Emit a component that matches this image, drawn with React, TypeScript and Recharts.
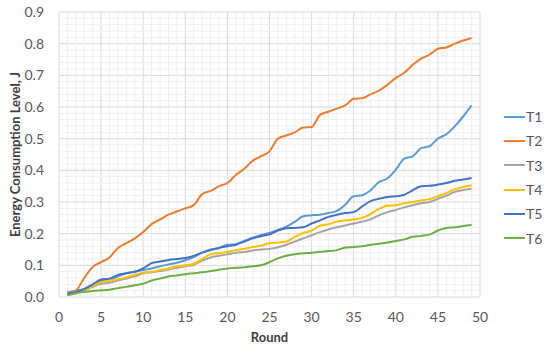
import React from 'react';
import { LineChart, Line, XAxis, YAxis, CartesianGrid, ReferenceLine } from 'recharts';

const rounds = Array.from({ length: 49 }, (_, i) => i + 1);

const t1 = [0.015, 0.02, 0.025, 0.035, 0.05, 0.055, 0.065, 0.075, 0.08, 0.085, 0.09, 0.097, 0.103, 0.108, 0.116, 0.126, 0.14, 0.15, 0.155, 0.165, 0.167, 0.177, 0.187, 0.196, 0.202, 0.212, 0.222, 0.237, 0.255, 0.258, 0.26, 0.265, 0.272, 0.292, 0.318, 0.321, 0.337, 0.363, 0.374, 0.402, 0.437, 0.444, 0.47, 0.476, 0.5, 0.514, 0.539, 0.57, 0.605];
const t2 = [0.01, 0.02, 0.06, 0.095, 0.11, 0.125, 0.155, 0.17, 0.185, 0.205, 0.23, 0.245, 0.26, 0.27, 0.28, 0.29, 0.325, 0.335, 0.35, 0.36, 0.385, 0.405, 0.43, 0.445, 0.46, 0.5, 0.51, 0.52, 0.535, 0.537, 0.575, 0.585, 0.595, 0.605, 0.626, 0.628, 0.64, 0.652, 0.67, 0.692, 0.708, 0.733, 0.753, 0.765, 0.784, 0.788, 0.8, 0.81, 0.818];
const t3 = [0.006, 0.012, 0.02, 0.032, 0.042, 0.045, 0.052, 0.058, 0.065, 0.075, 0.078, 0.082, 0.087, 0.092, 0.097, 0.102, 0.115, 0.125, 0.13, 0.135, 0.14, 0.142, 0.147, 0.15, 0.152, 0.157, 0.165, 0.175, 0.185, 0.195, 0.205, 0.213, 0.22, 0.226, 0.232, 0.238, 0.245, 0.258, 0.268, 0.275, 0.283, 0.29, 0.296, 0.3, 0.31, 0.32, 0.332, 0.338, 0.343];
const t4 = [0.008, 0.012, 0.02, 0.035, 0.047, 0.052, 0.056, 0.062, 0.07, 0.077, 0.08, 0.085, 0.09, 0.097, 0.1, 0.105, 0.12, 0.135, 0.138, 0.142, 0.148, 0.152, 0.158, 0.162, 0.17, 0.172, 0.175, 0.19, 0.202, 0.21, 0.225, 0.23, 0.238, 0.242, 0.245, 0.25, 0.262, 0.278, 0.288, 0.29, 0.296, 0.3, 0.305, 0.309, 0.318, 0.328, 0.34, 0.347, 0.353];
const t5 = [0.01, 0.015, 0.025, 0.04, 0.055, 0.058, 0.07, 0.075, 0.08, 0.09, 0.107, 0.112, 0.117, 0.12, 0.123, 0.13, 0.14, 0.148, 0.155, 0.16, 0.165, 0.175, 0.185, 0.192, 0.198, 0.21, 0.217, 0.218, 0.22, 0.232, 0.242, 0.253, 0.26, 0.265, 0.268, 0.286, 0.303, 0.31, 0.316, 0.318, 0.323, 0.337, 0.35, 0.351, 0.355, 0.36, 0.367, 0.371, 0.376];
const t6 = [0.005, 0.012, 0.016, 0.019, 0.021, 0.023, 0.028, 0.032, 0.037, 0.042, 0.052, 0.058, 0.065, 0.068, 0.072, 0.075, 0.078, 0.082, 0.086, 0.09, 0.092, 0.094, 0.097, 0.1, 0.11, 0.122, 0.13, 0.135, 0.138, 0.14, 0.143, 0.145, 0.148, 0.156, 0.158, 0.16, 0.165, 0.168, 0.172, 0.177, 0.182, 0.19, 0.193, 0.197, 0.21, 0.218, 0.22, 0.224, 0.227];

const xTicks = [0, 5, 10, 15, 20, 25, 30, 35, 40, 45, 50];
const yTicks = [0, 0.1, 0.2, 0.3, 0.4, 0.5, 0.6, 0.7, 0.8, 0.9];
const xMinor = Array.from({ length: 49 }, (_, i) => i + 1).filter(v => v % 5 !== 0);
const yMinor = Array.from({ length: 45 }, (_, i) => +(i * 0.02).toFixed(2)).filter(v => Math.round(v * 100) % 10 !== 0);

const series = [
  { key: 'T1', values: t1, color: '#5B9BD5' },
  { key: 'T2', values: t2, color: '#ED7D31' },
  { key: 'T3', values: t3, color: '#A5A5A5' },
  { key: 'T4', values: t4, color: '#FFC000' },
  { key: 'T5', values: t5, color: '#4472C4' },
  { key: 'T6', values: t6, color: '#70AD47' },
];

const data = rounds.map((r, i) => {
  const row: Record<string, number> = { round: r };
  series.forEach(s => { row[s.key] = s.values[i]; });
  return row;
});

const font = 'Lato, "Open Sans", sans-serif';
const textColor = '#595959';

export default function App() {
  return (
    <div style={{ position: 'absolute', left: 0, top: 0, width: 550, height: 349, background: '#fff' }}>
      <LineChart width={550} height={349} data={data} margin={{ top: 12, right: 70, bottom: 22, left: 18 }}>
        {xMinor.map(v => (
          <ReferenceLine key={'x' + v} x={v} stroke="#EFEFEF" strokeWidth={1} />
        ))}
        {yMinor.map(v => (
          <ReferenceLine key={'y' + v} y={v} stroke="#EFEFEF" strokeWidth={1} />
        ))}
        <CartesianGrid stroke="#D9D9D9" />
        <XAxis
          dataKey="round"
          type="number"
          domain={[0, 50]}
          ticks={xTicks}
          axisLine={false}
          tickLine={false}
          height={30}
          tickMargin={9}
          tick={{ fill: textColor, fontSize: 14, fontFamily: font }}
          label={{ value: 'Round', position: 'insideBottom', offset: -15, fill: '#404040', fontSize: 13, fontWeight: 'bold', fontFamily: font }}
        />
        <YAxis
          type="number"
          domain={[0, 0.9]}
          ticks={yTicks}
          axisLine={false}
          tickLine={false}
          width={41}
          tickMargin={9}
          tickFormatter={(v: number) => v.toFixed(1)}
          tick={{ fill: textColor, fontSize: 14, fontFamily: font }}
          label={{ value: 'Energy Consumption Level, J', angle: -90, position: 'insideLeft', offset: -3, style: { textAnchor: 'middle' }, fill: '#404040', fontSize: 13, fontWeight: 'bold', fontFamily: font }}
        />
        {series.map(s => (
          <Line
            key={s.key}
            type="monotone"
            dataKey={s.key}
            stroke={s.color}
            strokeWidth={2}
            dot={false}
            isAnimationActive={false}
          />
        ))}
      </LineChart>
      <div style={{ position: 'absolute', left: 504, top: 104.5, fontFamily: font, fontSize: 14, color: textColor }}>
        {series.map(s => (
          <div key={s.key} style={{ display: 'flex', alignItems: 'center', height: 24.3 }}>
            <span style={{ display: 'inline-block', width: 21, height: 2, background: s.color, marginRight: 1 }} />
            <span>{s.key}</span>
          </div>
        ))}
      </div>
    </div>
  );
}
